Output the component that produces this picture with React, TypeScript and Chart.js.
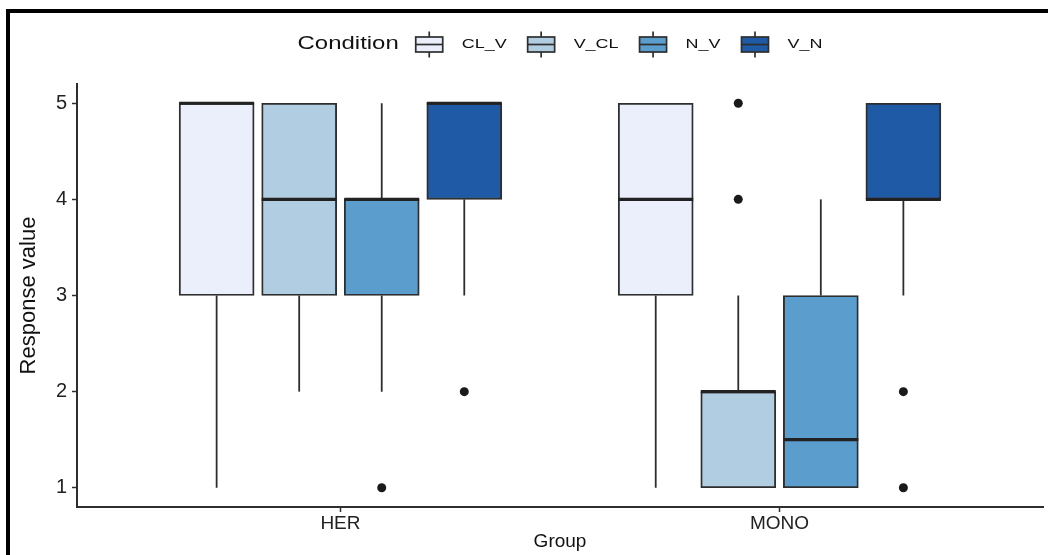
import React, { useEffect, useRef } from "react";
import { Chart, registerables } from "chart.js";

Chart.register(...registerables);

const groups = ["HER", "MONO"];
const conditions = ["CL_V", "V_CL", "N_V", "V_N"];
const fillColors = ["#EBEFFC", "#B1CDE2", "#5B9DCD", "#1F5AA6"];
const yTicks = [1, 2, 3, 4, 5];

// values indexed [condition][group]
const whiskerLow = [[1, 1], [2, 1], [2, 1], [3, 3]];
const q1 = [[3, 3], [3, 1], [3, 1], [4, 4]];
const median = [[5, 4], [4, 2], [4, 1.5], [5, 4]];
const q3 = [[5, 5], [5, 2], [4, 3], [5, 5]];
const whiskerHigh = [[5, 5], [5, 3], [5, 4], [5, 5]];
const outliers = [[[], []], [[], [4, 5]], [[1], []], [[2], [2, 1]]];

const DODGE = 0.188;
const LINE = "#2e2e2e";
const FONT = '"Liberation Sans", Arial, sans-serif';

const xPos = (ci: number, gi: number) => gi + 1 + (ci - 1.5) * DODGE;

const boxPlugin = {
  id: "boxParts",
  beforeDatasetsDraw(chart: any) {
    const ctx = chart.ctx;
    const ys = chart.scales.y;
    ctx.save();
    ctx.strokeStyle = LINE;
    ctx.lineWidth = 1.8;
    conditions.forEach((_, ci) => {
      const meta = chart.getDatasetMeta(ci);
      groups.forEach((_, gi) => {
        const el = meta.data[gi];
        const x = el.x;
        ctx.beginPath();
        ctx.moveTo(x, ys.getPixelForValue(whiskerHigh[ci][gi]));
        ctx.lineTo(x, ys.getPixelForValue(q3[ci][gi]));
        ctx.moveTo(x, ys.getPixelForValue(q1[ci][gi]));
        ctx.lineTo(x, ys.getPixelForValue(whiskerLow[ci][gi]));
        ctx.stroke();
      });
    });
    ctx.restore();
  },
  afterDatasetsDraw(chart: any) {
    const ctx = chart.ctx;
    const ys = chart.scales.y;
    ctx.save();
    ctx.strokeStyle = "#222";
    ctx.lineWidth = 3.2;
    conditions.forEach((_, ci) => {
      const meta = chart.getDatasetMeta(ci);
      groups.forEach((_, gi) => {
        const el = meta.data[gi];
        const y = ys.getPixelForValue(median[ci][gi]);
        ctx.beginPath();
        ctx.moveTo(el.x - el.width / 2, y);
        ctx.lineTo(el.x + el.width / 2, y);
        ctx.stroke();
      });
    });
    ctx.restore();
  },
};

const legendPlugin = {
  id: "ggLegend",
  afterDraw(chart: any) {
    const ctx = chart.ctx;
    const area = chart.chartArea;
    const sx = 1.33;
    const cy = 44.5;
    const titleFont = `18px ${FONT}`;
    const itemFont = `13.5px ${FONT}`;
    const keyW = 29;
    const gapTitle = 16;
    const gapKey = 18;
    const gapItem = 20;
    ctx.save();
    ctx.font = titleFont;
    const tw = ctx.measureText("Condition").width * sx;
    ctx.font = itemFont;
    const lws = conditions.map((c) => ctx.measureText(c).width * sx);
    let total = tw + gapTitle;
    lws.forEach((w, i) => {
      total += keyW + gapKey + w + (i < lws.length - 1 ? gapItem : 0);
    });
    let x = (area.left + area.right) / 2 - total / 2;
    ctx.fillStyle = "#111";
    ctx.textBaseline = "middle";
    ctx.textAlign = "left";
    const drawText = (t: string, font: string, px: number) => {
      ctx.save();
      ctx.font = font;
      ctx.translate(px, cy);
      ctx.scale(sx, 1);
      ctx.fillText(t, 0, 0);
      ctx.restore();
    };
    drawText("Condition", titleFont, x);
    x += tw + gapTitle;
    conditions.forEach((c, i) => {
      const mid = x + keyW / 2;
      ctx.strokeStyle = LINE;
      ctx.lineWidth = 1.7;
      ctx.beginPath();
      ctx.moveTo(mid, cy - 13);
      ctx.lineTo(mid, cy + 13);
      ctx.stroke();
      ctx.fillStyle = fillColors[i];
      ctx.fillRect(x + 1, cy - 7.5, keyW - 2, 15);
      ctx.strokeRect(x + 1, cy - 7.5, keyW - 2, 15);
      ctx.beginPath();
      ctx.moveTo(x + 1, cy);
      ctx.lineTo(x + keyW - 1, cy);
      ctx.stroke();
      x += keyW + gapKey;
      ctx.fillStyle = "#111";
      drawText(c, itemFont, x);
      x += lws[i] + gapItem;
    });
    ctx.restore();
  },
};

export default function App() {
  const ref = useRef<HTMLCanvasElement | null>(null);
  useEffect(() => {
    if (!ref.current) return;
    const boxSets = conditions.map((c, ci) => ({
      type: "bar" as const,
      label: c,
      data: groups.map((_, gi) => ({ x: xPos(ci, gi), y: [q1[ci][gi], q3[ci][gi]] })),
      backgroundColor: fillColors[ci],
      borderColor: LINE,
      borderWidth: 1.9,
      borderSkipped: false,
      barThickness: 75,
      grouped: false,
    }));
    const outlierPoints: { x: number; y: number }[] = [];
    outliers.forEach((byGroup, ci) =>
      byGroup.forEach((vals, gi) => vals.forEach((v) => outlierPoints.push({ x: xPos(ci, gi), y: v })))
    );
    const chart = new Chart(ref.current, {
      type: "bar",
      data: {
        datasets: [
          ...boxSets,
          {
            type: "scatter" as const,
            label: "outliers",
            data: outlierPoints,
            backgroundColor: "#1a1a1a",
            borderWidth: 0,
            pointRadius: 4.5,
          } as any,
        ],
      },
      options: {
        animation: false,
        responsive: false,
        devicePixelRatio: 1,
        layout: { padding: { top: 84, right: 5, left: 0, bottom: 0 } },
        plugins: { legend: { display: false }, tooltip: { enabled: false } },
        scales: {
          x: {
            type: "linear",
            min: 0.4,
            max: 2.6,
            offset: false,
            afterBuildTicks: (s: any) => {
              s.ticks = groups.map((_, i) => ({ value: i + 1 }));
            },
            afterFit: (s: any) => {
              s.height = 48;
            },
            ticks: {
              callback: (v: any) => groups[Math.round(Number(v)) - 1] ?? "",
              font: { family: FONT, size: 19 },
              color: "#222",
              padding: 0,
              autoSkip: false,
              maxRotation: 0,
            },
            grid: {
              display: true,
              offset: false,
              drawOnChartArea: false,
              tickLength: 5,
              tickColor: LINE,
              tickWidth: 1.5,
            },
            border: { display: true, color: LINE, width: 2 },
            title: {
              display: true,
              text: "Group",
              font: { family: FONT, size: 19 },
              color: "#111",
              padding: { top: 0, bottom: 2 },
            },
          },
          y: {
            type: "linear",
            min: 0.8,
            max: 5.2,
            afterBuildTicks: (s: any) => {
              s.ticks = yTicks.map((v) => ({ value: v }));
            },
            afterFit: (s: any) => {
              s.width = 77;
            },
            ticks: {
              font: { family: FONT, size: 20 },
              color: "#222",
              padding: 5,
            },
            grid: { display: true, drawOnChartArea: false, tickLength: 5, tickColor: LINE, tickWidth: 1.5 },
            border: { display: true, color: LINE, width: 2 },
            title: {
              display: true,
              text: "Response value",
              font: { family: FONT, size: 22 },
              color: "#111",
              padding: { top: 16, bottom: 0 },
            },
          },
        },
      },
      plugins: [boxPlugin, legendPlugin],
    } as any);
    return () => chart.destroy();
  }, []);
  return (
    <div style={{ position: "absolute", left: 0, top: 0, width: 1048, height: 555, background: "#fff" }}>
      <canvas ref={ref} width={1048} height={555} style={{ display: "block" }} />
      <div
        style={{
          position: "absolute",
          left: 6,
          top: 9,
          width: 1042,
          height: 546,
          boxSizing: "border-box",
          borderLeft: "4px solid #000",
          borderTop: "4px solid #000",
          pointerEvents: "none",
        }}
      />
    </div>
  );
}
